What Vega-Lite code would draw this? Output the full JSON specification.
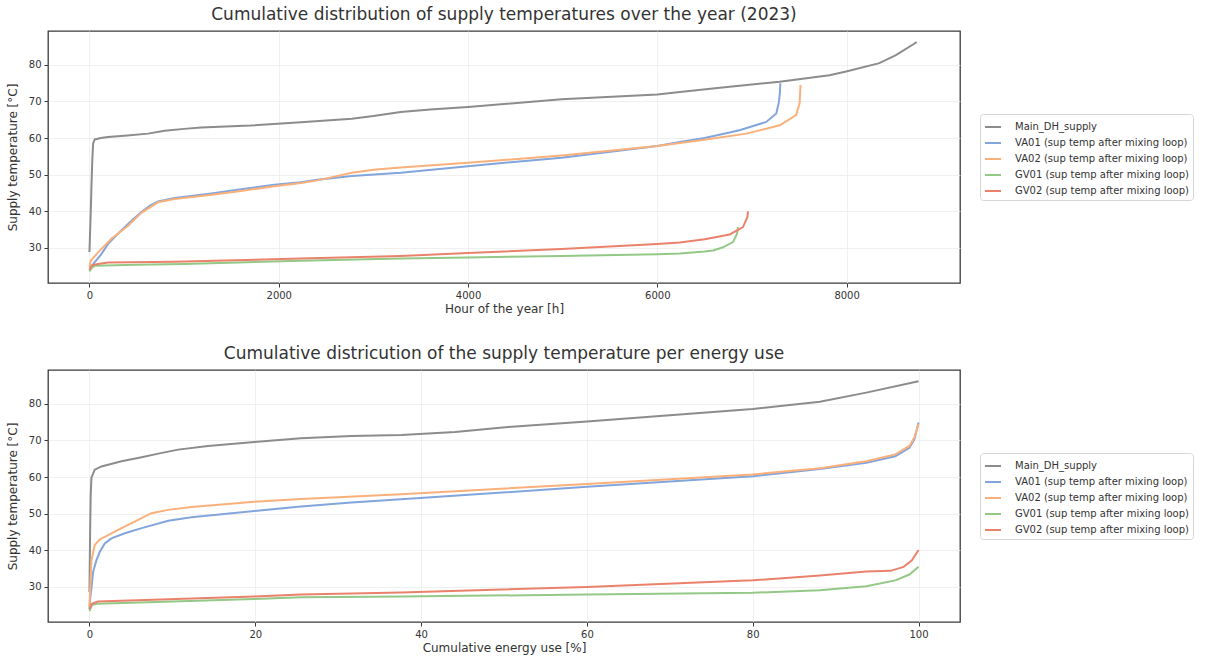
{
  "$schema": "https://vega.github.io/schema/vega-lite/v6.json",
  "background": "white",
  "padding": {"left": 5, "top": 5, "right": 5, "bottom": 5},
  "spacing": 29,
  "config": {
    "font": "DejaVu Sans",
    "view": {"stroke": "#3a3a3a", "strokeWidth": 1.3},
    "axis": {
      "domain": false,
      "grid": true,
      "gridColor": "#ececec",
      "gridWidth": 0.8,
      "tickColor": "#3a3a3a",
      "tickSize": 4,
      "labelFontSize": 10,
      "labelColor": "#333333",
      "labelPadding": 3,
      "titleFontSize": 12,
      "titleFontWeight": "normal",
      "titleColor": "#333333"
    },
    "axisY": {"titlePadding": 9},
    "axisX": {"titlePadding": 3, "format": "d"},
    "title": {"fontSize": 17, "fontWeight": "normal", "color": "#333333", "offset": 7},
    "legend": {
      "orient": "none",
      "legendX": 932,
      "legendY": 83,
      "title": null,
      "strokeColor": "#d6d6d6",
      "fillColor": "white",
      "cornerRadius": 3,
      "padding": 4,
      "labelFontSize": 10,
      "labelColor": "#333333",
      "labelLimit": 0,
      "symbolType": "stroke",
      "symbolStrokeWidth": 2,
      "symbolSize": 256,
      "labelOffset": 13,
      "rowPadding": 2
    },
    "line": {"strokeWidth": 2}
  },
  "datasets": {
    "hours": [
      {"series": "Main_DH_supply", "x": 0, "t": 28.8},
      {"series": "Main_DH_supply", "x": 14, "t": 40.0},
      {"series": "Main_DH_supply", "x": 21, "t": 46.6},
      {"series": "Main_DH_supply", "x": 30, "t": 54.0},
      {"series": "Main_DH_supply", "x": 39, "t": 58.5},
      {"series": "Main_DH_supply", "x": 56, "t": 59.6},
      {"series": "Main_DH_supply", "x": 120, "t": 60.0},
      {"series": "Main_DH_supply", "x": 197, "t": 60.3},
      {"series": "Main_DH_supply", "x": 400, "t": 60.7},
      {"series": "Main_DH_supply", "x": 618, "t": 61.2},
      {"series": "Main_DH_supply", "x": 794, "t": 62.0},
      {"series": "Main_DH_supply", "x": 1000, "t": 62.5},
      {"series": "Main_DH_supply", "x": 1180, "t": 62.9},
      {"series": "Main_DH_supply", "x": 1700, "t": 63.4},
      {"series": "Main_DH_supply", "x": 2234, "t": 64.3},
      {"series": "Main_DH_supply", "x": 2773, "t": 65.3},
      {"series": "Main_DH_supply", "x": 3000, "t": 66.0},
      {"series": "Main_DH_supply", "x": 3288, "t": 67.1},
      {"series": "Main_DH_supply", "x": 3600, "t": 67.8},
      {"series": "Main_DH_supply", "x": 4000, "t": 68.5},
      {"series": "Main_DH_supply", "x": 4988, "t": 70.6},
      {"series": "Main_DH_supply", "x": 6000, "t": 71.9},
      {"series": "Main_DH_supply", "x": 6238, "t": 72.6},
      {"series": "Main_DH_supply", "x": 6687, "t": 73.8},
      {"series": "Main_DH_supply", "x": 7292, "t": 75.4},
      {"series": "Main_DH_supply", "x": 7819, "t": 77.2},
      {"series": "Main_DH_supply", "x": 7995, "t": 78.2},
      {"series": "Main_DH_supply", "x": 8346, "t": 80.5},
      {"series": "Main_DH_supply", "x": 8521, "t": 82.7},
      {"series": "Main_DH_supply", "x": 8714, "t": 85.8},
      {"series": "Main_DH_supply", "x": 8740, "t": 86.3},

      {"series": "VA01 (sup temp after mixing loop)", "x": 0, "t": 23.8},
      {"series": "VA01 (sup temp after mixing loop)", "x": 20, "t": 24.8},
      {"series": "VA01 (sup temp after mixing loop)", "x": 56, "t": 26.0},
      {"series": "VA01 (sup temp after mixing loop)", "x": 120, "t": 28.0},
      {"series": "VA01 (sup temp after mixing loop)", "x": 197, "t": 31.0},
      {"series": "VA01 (sup temp after mixing loop)", "x": 290, "t": 33.5},
      {"series": "VA01 (sup temp after mixing loop)", "x": 372, "t": 35.6},
      {"series": "VA01 (sup temp after mixing loop)", "x": 450, "t": 37.5},
      {"series": "VA01 (sup temp after mixing loop)", "x": 548, "t": 39.7},
      {"series": "VA01 (sup temp after mixing loop)", "x": 640, "t": 41.5},
      {"series": "VA01 (sup temp after mixing loop)", "x": 724, "t": 42.6},
      {"series": "VA01 (sup temp after mixing loop)", "x": 899, "t": 43.6},
      {"series": "VA01 (sup temp after mixing loop)", "x": 1251, "t": 44.7},
      {"series": "VA01 (sup temp after mixing loop)", "x": 1602, "t": 46.0},
      {"series": "VA01 (sup temp after mixing loop)", "x": 1953, "t": 47.2},
      {"series": "VA01 (sup temp after mixing loop)", "x": 2234, "t": 47.9},
      {"series": "VA01 (sup temp after mixing loop)", "x": 2410, "t": 48.6},
      {"series": "VA01 (sup temp after mixing loop)", "x": 2773, "t": 49.6},
      {"series": "VA01 (sup temp after mixing loop)", "x": 3288, "t": 50.5},
      {"series": "VA01 (sup temp after mixing loop)", "x": 4000, "t": 52.3},
      {"series": "VA01 (sup temp after mixing loop)", "x": 4988, "t": 54.6},
      {"series": "VA01 (sup temp after mixing loop)", "x": 6000, "t": 57.8},
      {"series": "VA01 (sup temp after mixing loop)", "x": 6238, "t": 58.9},
      {"series": "VA01 (sup temp after mixing loop)", "x": 6498, "t": 60.0},
      {"series": "VA01 (sup temp after mixing loop)", "x": 6765, "t": 61.5},
      {"series": "VA01 (sup temp after mixing loop)", "x": 6876, "t": 62.2},
      {"series": "VA01 (sup temp after mixing loop)", "x": 7151, "t": 64.4},
      {"series": "VA01 (sup temp after mixing loop)", "x": 7257, "t": 66.7},
      {"series": "VA01 (sup temp after mixing loop)", "x": 7285, "t": 69.9},
      {"series": "VA01 (sup temp after mixing loop)", "x": 7295, "t": 72.5},
      {"series": "VA01 (sup temp after mixing loop)", "x": 7300, "t": 75.0},

      {"series": "VA02 (sup temp after mixing loop)", "x": 0, "t": 24.6},
      {"series": "VA02 (sup temp after mixing loop)", "x": 14, "t": 26.4},
      {"series": "VA02 (sup temp after mixing loop)", "x": 91, "t": 28.7},
      {"series": "VA02 (sup temp after mixing loop)", "x": 232, "t": 32.4},
      {"series": "VA02 (sup temp after mixing loop)", "x": 408, "t": 36.0},
      {"series": "VA02 (sup temp after mixing loop)", "x": 548, "t": 39.5},
      {"series": "VA02 (sup temp after mixing loop)", "x": 724, "t": 42.4},
      {"series": "VA02 (sup temp after mixing loop)", "x": 899, "t": 43.3},
      {"series": "VA02 (sup temp after mixing loop)", "x": 1251, "t": 44.3},
      {"series": "VA02 (sup temp after mixing loop)", "x": 1602, "t": 45.5},
      {"series": "VA02 (sup temp after mixing loop)", "x": 1953, "t": 46.8},
      {"series": "VA02 (sup temp after mixing loop)", "x": 2234, "t": 47.7},
      {"series": "VA02 (sup temp after mixing loop)", "x": 2410, "t": 48.4},
      {"series": "VA02 (sup temp after mixing loop)", "x": 2773, "t": 50.5},
      {"series": "VA02 (sup temp after mixing loop)", "x": 3000, "t": 51.3},
      {"series": "VA02 (sup temp after mixing loop)", "x": 3288, "t": 51.9},
      {"series": "VA02 (sup temp after mixing loop)", "x": 4000, "t": 53.2},
      {"series": "VA02 (sup temp after mixing loop)", "x": 4988, "t": 55.2},
      {"series": "VA02 (sup temp after mixing loop)", "x": 6000, "t": 57.8},
      {"series": "VA02 (sup temp after mixing loop)", "x": 6498, "t": 59.5},
      {"series": "VA02 (sup temp after mixing loop)", "x": 6941, "t": 61.2},
      {"series": "VA02 (sup temp after mixing loop)", "x": 7292, "t": 63.5},
      {"series": "VA02 (sup temp after mixing loop)", "x": 7467, "t": 66.3},
      {"series": "VA02 (sup temp after mixing loop)", "x": 7503, "t": 69.5},
      {"series": "VA02 (sup temp after mixing loop)", "x": 7513, "t": 74.5},

      {"series": "GV01 (sup temp after mixing loop)", "x": 0, "t": 23.5},
      {"series": "GV01 (sup temp after mixing loop)", "x": 30, "t": 24.6},
      {"series": "GV01 (sup temp after mixing loop)", "x": 56, "t": 25.0},
      {"series": "GV01 (sup temp after mixing loop)", "x": 500, "t": 25.3},
      {"series": "GV01 (sup temp after mixing loop)", "x": 1000, "t": 25.5},
      {"series": "GV01 (sup temp after mixing loop)", "x": 2234, "t": 26.4},
      {"series": "GV01 (sup temp after mixing loop)", "x": 3288, "t": 27.0},
      {"series": "GV01 (sup temp after mixing loop)", "x": 4000, "t": 27.3},
      {"series": "GV01 (sup temp after mixing loop)", "x": 4988, "t": 27.7},
      {"series": "GV01 (sup temp after mixing loop)", "x": 6000, "t": 28.2},
      {"series": "GV01 (sup temp after mixing loop)", "x": 6238, "t": 28.4},
      {"series": "GV01 (sup temp after mixing loop)", "x": 6498, "t": 28.9},
      {"series": "GV01 (sup temp after mixing loop)", "x": 6589, "t": 29.2},
      {"series": "GV01 (sup temp after mixing loop)", "x": 6687, "t": 30.0},
      {"series": "GV01 (sup temp after mixing loop)", "x": 6800, "t": 31.5},
      {"series": "GV01 (sup temp after mixing loop)", "x": 6842, "t": 33.8},
      {"series": "GV01 (sup temp after mixing loop)", "x": 6852, "t": 35.6},

      {"series": "GV02 (sup temp after mixing loop)", "x": 0, "t": 24.0},
      {"series": "GV02 (sup temp after mixing loop)", "x": 30, "t": 25.2},
      {"series": "GV02 (sup temp after mixing loop)", "x": 91, "t": 25.5},
      {"series": "GV02 (sup temp after mixing loop)", "x": 197, "t": 25.9},
      {"series": "GV02 (sup temp after mixing loop)", "x": 899, "t": 26.1},
      {"series": "GV02 (sup temp after mixing loop)", "x": 2234, "t": 27.0},
      {"series": "GV02 (sup temp after mixing loop)", "x": 3288, "t": 27.7},
      {"series": "GV02 (sup temp after mixing loop)", "x": 4000, "t": 28.5},
      {"series": "GV02 (sup temp after mixing loop)", "x": 4988, "t": 29.6},
      {"series": "GV02 (sup temp after mixing loop)", "x": 6000, "t": 31.0},
      {"series": "GV02 (sup temp after mixing loop)", "x": 6238, "t": 31.4},
      {"series": "GV02 (sup temp after mixing loop)", "x": 6500, "t": 32.3},
      {"series": "GV02 (sup temp after mixing loop)", "x": 6765, "t": 33.6},
      {"series": "GV02 (sup temp after mixing loop)", "x": 6905, "t": 35.6},
      {"series": "GV02 (sup temp after mixing loop)", "x": 6951, "t": 38.3},
      {"series": "GV02 (sup temp after mixing loop)", "x": 6958, "t": 39.9}
    ],
    "energy": [
      {"series": "Main_DH_supply", "x": 0, "t": 28.5},
      {"series": "Main_DH_supply", "x": 0.08, "t": 45.0},
      {"series": "Main_DH_supply", "x": 0.15, "t": 55.0},
      {"series": "Main_DH_supply", "x": 0.24, "t": 59.8},
      {"series": "Main_DH_supply", "x": 0.64, "t": 62.0},
      {"series": "Main_DH_supply", "x": 1.45, "t": 62.9},
      {"series": "Main_DH_supply", "x": 3.86, "t": 64.3},
      {"series": "Main_DH_supply", "x": 6.3, "t": 65.4},
      {"series": "Main_DH_supply", "x": 8.3, "t": 66.4},
      {"series": "Main_DH_supply", "x": 10.7, "t": 67.5},
      {"series": "Main_DH_supply", "x": 14.3, "t": 68.5},
      {"series": "Main_DH_supply", "x": 19.9, "t": 69.6},
      {"series": "Main_DH_supply", "x": 25.5, "t": 70.6},
      {"series": "Main_DH_supply", "x": 31.6, "t": 71.2},
      {"series": "Main_DH_supply", "x": 37.6, "t": 71.5},
      {"series": "Main_DH_supply", "x": 44.1, "t": 72.3},
      {"series": "Main_DH_supply", "x": 50.5, "t": 73.7},
      {"series": "Main_DH_supply", "x": 60, "t": 75.2},
      {"series": "Main_DH_supply", "x": 70, "t": 76.9},
      {"series": "Main_DH_supply", "x": 80, "t": 78.6},
      {"series": "Main_DH_supply", "x": 88.1, "t": 80.6},
      {"series": "Main_DH_supply", "x": 93.7, "t": 83.1},
      {"series": "Main_DH_supply", "x": 100, "t": 86.2},

      {"series": "VA01 (sup temp after mixing loop)", "x": 0, "t": 23.8},
      {"series": "VA01 (sup temp after mixing loop)", "x": 0.1, "t": 27.0},
      {"series": "VA01 (sup temp after mixing loop)", "x": 0.24, "t": 29.5},
      {"series": "VA01 (sup temp after mixing loop)", "x": 0.44, "t": 34.0},
      {"series": "VA01 (sup temp after mixing loop)", "x": 0.84, "t": 37.2},
      {"series": "VA01 (sup temp after mixing loop)", "x": 1.24, "t": 39.5},
      {"series": "VA01 (sup temp after mixing loop)", "x": 1.85, "t": 41.8},
      {"series": "VA01 (sup temp after mixing loop)", "x": 2.65, "t": 43.2},
      {"series": "VA01 (sup temp after mixing loop)", "x": 4.26, "t": 44.6},
      {"series": "VA01 (sup temp after mixing loop)", "x": 6.3, "t": 46.0},
      {"series": "VA01 (sup temp after mixing loop)", "x": 9.5, "t": 48.0},
      {"series": "VA01 (sup temp after mixing loop)", "x": 12.3, "t": 49.0},
      {"series": "VA01 (sup temp after mixing loop)", "x": 19.9, "t": 50.7},
      {"series": "VA01 (sup temp after mixing loop)", "x": 25.5, "t": 51.9},
      {"series": "VA01 (sup temp after mixing loop)", "x": 31.6, "t": 53.0},
      {"series": "VA01 (sup temp after mixing loop)", "x": 37.6, "t": 53.9},
      {"series": "VA01 (sup temp after mixing loop)", "x": 60, "t": 57.3},
      {"series": "VA01 (sup temp after mixing loop)", "x": 80, "t": 60.2},
      {"series": "VA01 (sup temp after mixing loop)", "x": 88.1, "t": 62.2},
      {"series": "VA01 (sup temp after mixing loop)", "x": 93.7, "t": 63.9},
      {"series": "VA01 (sup temp after mixing loop)", "x": 97.2, "t": 65.7},
      {"series": "VA01 (sup temp after mixing loop)", "x": 98.9, "t": 68.0},
      {"series": "VA01 (sup temp after mixing loop)", "x": 99.5, "t": 70.3},
      {"series": "VA01 (sup temp after mixing loop)", "x": 100, "t": 74.9},

      {"series": "VA02 (sup temp after mixing loop)", "x": 0, "t": 24.5},
      {"series": "VA02 (sup temp after mixing loop)", "x": 0.1, "t": 30.0},
      {"series": "VA02 (sup temp after mixing loop)", "x": 0.24, "t": 37.2},
      {"series": "VA02 (sup temp after mixing loop)", "x": 0.64, "t": 41.4},
      {"series": "VA02 (sup temp after mixing loop)", "x": 1.24, "t": 42.9},
      {"series": "VA02 (sup temp after mixing loop)", "x": 2.25, "t": 44.1},
      {"series": "VA02 (sup temp after mixing loop)", "x": 3.45, "t": 45.5},
      {"series": "VA02 (sup temp after mixing loop)", "x": 5.46, "t": 47.8},
      {"series": "VA02 (sup temp after mixing loop)", "x": 7.47, "t": 50.1},
      {"series": "VA02 (sup temp after mixing loop)", "x": 9.5, "t": 51.0},
      {"series": "VA02 (sup temp after mixing loop)", "x": 12.3, "t": 51.8},
      {"series": "VA02 (sup temp after mixing loop)", "x": 19.9, "t": 53.2},
      {"series": "VA02 (sup temp after mixing loop)", "x": 25.5, "t": 54.0},
      {"series": "VA02 (sup temp after mixing loop)", "x": 37.6, "t": 55.3},
      {"series": "VA02 (sup temp after mixing loop)", "x": 60, "t": 58.1},
      {"series": "VA02 (sup temp after mixing loop)", "x": 80, "t": 60.7},
      {"series": "VA02 (sup temp after mixing loop)", "x": 88.1, "t": 62.4},
      {"series": "VA02 (sup temp after mixing loop)", "x": 93.7, "t": 64.3},
      {"series": "VA02 (sup temp after mixing loop)", "x": 97.2, "t": 66.2},
      {"series": "VA02 (sup temp after mixing loop)", "x": 98.9, "t": 68.5},
      {"series": "VA02 (sup temp after mixing loop)", "x": 99.5, "t": 70.8},
      {"series": "VA02 (sup temp after mixing loop)", "x": 100, "t": 74.5},

      {"series": "GV01 (sup temp after mixing loop)", "x": 0, "t": 23.3},
      {"series": "GV01 (sup temp after mixing loop)", "x": 0.3, "t": 25.0},
      {"series": "GV01 (sup temp after mixing loop)", "x": 1, "t": 25.3},
      {"series": "GV01 (sup temp after mixing loop)", "x": 19.9, "t": 26.6},
      {"series": "GV01 (sup temp after mixing loop)", "x": 25.5, "t": 27.1},
      {"series": "GV01 (sup temp after mixing loop)", "x": 37.6, "t": 27.3},
      {"series": "GV01 (sup temp after mixing loop)", "x": 60, "t": 27.8},
      {"series": "GV01 (sup temp after mixing loop)", "x": 80, "t": 28.3},
      {"series": "GV01 (sup temp after mixing loop)", "x": 88.1, "t": 29.0},
      {"series": "GV01 (sup temp after mixing loop)", "x": 93.7, "t": 30.1},
      {"series": "GV01 (sup temp after mixing loop)", "x": 97.2, "t": 31.7},
      {"series": "GV01 (sup temp after mixing loop)", "x": 98.9, "t": 33.3},
      {"series": "GV01 (sup temp after mixing loop)", "x": 100, "t": 35.4},

      {"series": "GV02 (sup temp after mixing loop)", "x": 0, "t": 23.8},
      {"series": "GV02 (sup temp after mixing loop)", "x": 0.3, "t": 25.3},
      {"series": "GV02 (sup temp after mixing loop)", "x": 1, "t": 25.9},
      {"series": "GV02 (sup temp after mixing loop)", "x": 19.9, "t": 27.3},
      {"series": "GV02 (sup temp after mixing loop)", "x": 25.5, "t": 27.8},
      {"series": "GV02 (sup temp after mixing loop)", "x": 37.6, "t": 28.4},
      {"series": "GV02 (sup temp after mixing loop)", "x": 60, "t": 29.9},
      {"series": "GV02 (sup temp after mixing loop)", "x": 80, "t": 31.7},
      {"series": "GV02 (sup temp after mixing loop)", "x": 88.1, "t": 33.0},
      {"series": "GV02 (sup temp after mixing loop)", "x": 93.7, "t": 34.1},
      {"series": "GV02 (sup temp after mixing loop)", "x": 96.6, "t": 34.3},
      {"series": "GV02 (sup temp after mixing loop)", "x": 98.2, "t": 35.4},
      {"series": "GV02 (sup temp after mixing loop)", "x": 99.2, "t": 37.2},
      {"series": "GV02 (sup temp after mixing loop)", "x": 100, "t": 40.0}
    ]
  },
  "vconcat": [
    {
      "title": "Cumulative distribution of supply temperatures over the year (2023)",
      "width": 912,
      "height": 252,
      "data": {"name": "hours"},
      "mark": {"type": "line", "strokeWidth": 2},
      "encoding": {
        "x": {
          "field": "x", "type": "quantitative",
          "scale": {"domain": [-438, 9198], "nice": false, "zero": false},
          "axis": {"title": "Hour of the year [h]", "values": [0, 2000, 4000, 6000, 8000]}
        },
        "y": {
          "field": "t", "type": "quantitative",
          "scale": {"domain": [20.3, 89.3], "nice": false, "zero": false},
          "axis": {"title": "Supply temperature [°C]", "values": [30, 40, 50, 60, 70, 80]}
        },
        "color": {
          "field": "series", "type": "nominal",
          "scale": {
            "domain": ["Main_DH_supply", "VA01 (sup temp after mixing loop)", "VA02 (sup temp after mixing loop)", "GV01 (sup temp after mixing loop)", "GV02 (sup temp after mixing loop)"],
            "range": ["#8c8c8c", "#82a5dc", "#f9b07a", "#94c886", "#ea826b"]
          }
        }
      }
    },
    {
      "title": "Cumulative districution of the supply temperature per energy use",
      "width": 912,
      "height": 252,
      "data": {"name": "energy"},
      "mark": {"type": "line", "strokeWidth": 2},
      "encoding": {
        "x": {
          "field": "x", "type": "quantitative",
          "scale": {"domain": [-5, 105], "nice": false, "zero": false},
          "axis": {"title": "Cumulative energy use [%]", "values": [0, 20, 40, 60, 80, 100]}
        },
        "y": {
          "field": "t", "type": "quantitative",
          "scale": {"domain": [20.3, 89.3], "nice": false, "zero": false},
          "axis": {"title": "Supply temperature [°C]", "values": [30, 40, 50, 60, 70, 80]}
        },
        "color": {
          "field": "series", "type": "nominal",
          "scale": {
            "domain": ["Main_DH_supply", "VA01 (sup temp after mixing loop)", "VA02 (sup temp after mixing loop)", "GV01 (sup temp after mixing loop)", "GV02 (sup temp after mixing loop)"],
            "range": ["#8c8c8c", "#82a5dc", "#f9b07a", "#94c886", "#ea826b"]
          }
        }
      }
    }
  ],
  "resolve": {"scale": {"color": "independent"}, "legend": {"color": "independent"}}
}
